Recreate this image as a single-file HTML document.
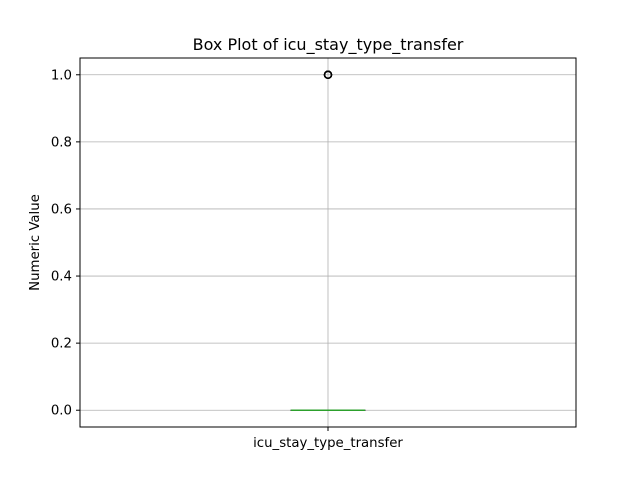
<!DOCTYPE html>
<html><head><meta charset="utf-8"><style>
body{margin:0;background:#fff}
svg{display:block;font-family:"DejaVu Sans","Liberation Sans",sans-serif}
</style></head><body>
<svg id="chart" width="640" height="480">
<rect width="640" height="480" fill="#fff"/>
<text x="328" y="50" font-size="16" text-anchor="middle">Box Plot of icu_stay_type_transfer</text>
<g id="grid"></g>
<g id="yticks"></g>
<g id="box"></g>
<rect x="80" y="58" width="496" height="369" fill="none" stroke="#000" stroke-width="1"/>
<line x1="328" y1="427" x2="328" y2="431" stroke="#000"/>
<text x="328" y="447" font-size="13.3" text-anchor="middle">icu_stay_type_transfer</text>
<text transform="translate(39,242.5) rotate(-90)" font-size="13.3" text-anchor="middle">Numeric Value</text>
</svg>
<script>
const yTicks=[0,0.2,0.4,0.6,0.8,1.0];
const yTickLabels=["0.0","0.2","0.4","0.6","0.8","1.0"];
const boxStats=[0,0,0,0,0];
const fliers=[1,1,1];
const ns="http://www.w3.org/2000/svg";
const yMin=-0.05,yMax=1.05,plotTop=58,plotBot=427;
function y(v){return plotBot-(v-yMin)/(yMax-yMin)*(plotBot-plotTop);}
function mk(p,t,a){const e=document.createElementNS(ns,t);for(const k in a)e.setAttribute(k,a[k]);p.appendChild(e);return e;}
const grid=document.getElementById('grid'),yt=document.getElementById('yticks'),box=document.getElementById('box');
let gv=mk(grid,'line',{x1:328,x2:328,y1:plotTop,y2:plotBot,stroke:'#b0b0b0','stroke-width':0.8});


yTicks.forEach((v,i)=>{
 const g=mk(grid,'line',{x1:80,x2:576,y1:y(v),y2:y(v),stroke:'#b0b0b0','stroke-width':0.8});
 
 
 const t=mk(yt,'line',{x1:76,x2:80,y1:y(v),y2:y(v),stroke:'#000'});
 
 
 const l=mk(yt,'text',{x:72,y:y(v)+4.5,'font-size':13.3,'text-anchor':'end'});
 l.textContent=yTickLabels[i];
 
 
});
const cx=328,hw=37,cw=18.5;
const [wl,q1,med,q3,wh]=boxStats;
const b=mk(box,'rect',{x:cx-hw,y:y(q3),width:2*hw,height:Math.max(y(q1)-y(q3),0.01),fill:'none',stroke:'#000'});


[[wl,q1],[q3,wh]].forEach(p=>{const w=mk(box,'line',{x1:cx,x2:cx,y1:y(p[0]),y2:y(p[1]),stroke:'#000'});
 
 });
[wl,wh].forEach(v=>{const c=mk(box,'line',{x1:cx-cw,x2:cx+cw,y1:y(v),y2:y(v),stroke:'#000'});
 
 });
const m=mk(box,'line',{x1:cx-hw,x2:cx+hw,y1:y(med),y2:y(med),stroke:'#2ca02c','stroke-width':1.5});


fliers.forEach(v=>{const f=mk(box,'circle',{cx:cx,cy:y(v),r:3.5,fill:'none',stroke:'#000','stroke-width':1.5});
 
 });
</script>
</body></html>
